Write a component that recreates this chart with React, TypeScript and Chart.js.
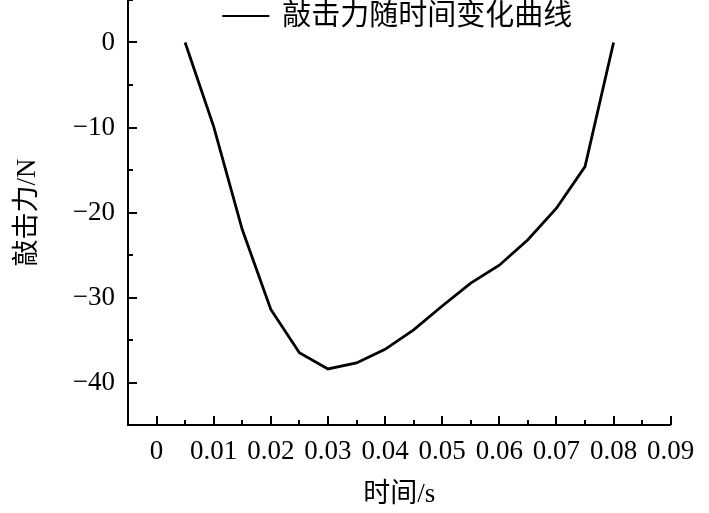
import { useEffect, useRef } from 'react';
import { Chart, registerables } from 'chart.js';

Chart.register(...registerables);

const seriesLabel = '敲击力随时间变化曲线';
const timeValues = [0.005, 0.01, 0.015, 0.02, 0.025, 0.03, 0.035, 0.04, 0.045, 0.05, 0.055, 0.06, 0.065, 0.07, 0.075, 0.08];
const forceValues = [0, -9.9, -22.0, -31.4, -36.5, -38.4, -37.7, -36.1, -33.8, -31.0, -28.3, -26.2, -23.2, -19.5, -14.6, 0];

const xMajorTicks = [0, 0.01, 0.02, 0.03, 0.04, 0.05, 0.06, 0.07, 0.08, 0.09];
const xMinorTicks = [0.005, 0.015, 0.025, 0.035, 0.045, 0.055, 0.065, 0.075, 0.085];
const yMajorTicks = [-40, -30, -20, -10, 0];
const yMinorTicks = [-35, -25, -15, -5, 5];

const xTitle = '时间/s';
const yTitle = '敲击力/N';

const FONT = "'Liberation Serif', 'Noto Sans CJK SC', serif";

const inwardTicks = {
  id: 'inwardTicks',
  afterDraw(chart: any) {
    const { ctx, chartArea } = chart;
    const x = chart.scales.x;
    const y = chart.scales.y;
    ctx.save();
    ctx.strokeStyle = '#000';
    ctx.lineWidth = 2;
    const bottom = chartArea.bottom;
    const left = chartArea.left;
    const drawX = (vals: number[], len: number) => {
      vals.forEach((v) => {
        const px = Math.round(x.getPixelForValue(v));
        ctx.beginPath();
        ctx.moveTo(px, bottom);
        ctx.lineTo(px, bottom - len);
        ctx.stroke();
      });
    };
    const drawY = (vals: number[], len: number) => {
      vals.forEach((v) => {
        const py = Math.round(y.getPixelForValue(v));
        ctx.beginPath();
        ctx.moveTo(left, py);
        ctx.lineTo(left + len, py);
        ctx.stroke();
      });
    };
    drawX(xMajorTicks, 9);
    drawX(xMinorTicks, 5);
    drawY(yMajorTicks, 9);
    drawY(yMinorTicks, 5);

    // legend inside plot area
    const ds = chart.data.datasets[0];
    ctx.font = `29px ${FONT}`;
    const text = ds.label as string;
    const tw = ctx.measureText(text).width;
    const lineW = 47;
    const gap = 13;
    const total = lineW + gap + tw;
    const cx = (chartArea.left + chartArea.right) / 2;
    const sx = cx - total / 2 - 2;
    const ly = chartArea.top + 16;
    ctx.strokeStyle = ds.borderColor;
    ctx.lineWidth = 2;
    ctx.beginPath();
    ctx.moveTo(sx, ly);
    ctx.lineTo(sx + lineW, ly);
    ctx.stroke();
    ctx.fillStyle = '#000';
    ctx.textBaseline = 'middle';
    ctx.textAlign = 'left';
    ctx.fillText(text, sx + lineW + gap, ly + 1);
    ctx.restore();
  },
};

export default function App() {
  const ref = useRef<HTMLCanvasElement>(null);
  useEffect(() => {
    if (!ref.current) return;
    const chart = new Chart(ref.current, {
      type: 'line',
      data: {
        datasets: [
          {
            label: seriesLabel,
            data: timeValues.map((t, i) => ({ x: t, y: forceValues[i] })),
            borderColor: '#000',
            borderWidth: 2.8,
            pointRadius: 0,
            tension: 0,
            fill: false,
          },
        ],
      },
      options: {
        animation: false,
        responsive: false,
        maintainAspectRatio: false,
        layout: { padding: { left: 0, right: 38.3, top: 0, bottom: 0 } },
        plugins: {
          legend: { display: false },
          tooltip: { enabled: false },
        },
        scales: {
          x: {
            type: 'linear',
            min: -0.005,
            max: 0.09,
            afterBuildTicks: (s: any) => {
              s.ticks = xMajorTicks.map((v) => ({ value: v }));
            },
            afterFit: (s: any) => {
              s.height = 88;
              s.paddingLeft = 0;
              s.paddingRight = 0;
            },
            grid: { display: false, drawTicks: false },
            border: { display: true, color: '#000', width: 2 },
            ticks: {
              color: '#000',
              padding: 11,
              maxRotation: 0,
              autoSkip: false,
              font: { family: FONT, size: 27 },
              callback: (v: any) => (v === 0 ? '0' : Number(v).toFixed(2)),
            },
            title: {
              display: true,
              text: xTitle,
              color: '#000',
              font: { family: FONT, size: 27, lineHeight: 1 },
              padding: { top: 0, bottom: 5 },
            },
          },
          y: {
            type: 'linear',
            min: -45,
            max: 5,
            afterBuildTicks: (s: any) => {
              s.ticks = yMajorTicks.map((v) => ({ value: v }));
            },
            afterFit: (s: any) => {
              s.width = 128;
              s.paddingTop = 0;
              s.paddingBottom = 0;
            },
            grid: { display: false, drawTicks: false },
            border: { display: true, color: '#000', width: 2 },
            ticks: {
              color: '#000',
              padding: 13,
              autoSkip: false,
              font: { family: FONT, size: 27 },
              callback: (v: any) => String(v).replace('-', '\u2212'),
            },
            title: {
              display: true,
              text: yTitle,
              color: '#000',
              font: { family: FONT, size: 27, lineHeight: 1 },
              padding: { top: 14, bottom: 0 },
            },
          },
        },
      },
      plugins: [inwardTicks],
    });
    return () => chart.destroy();
  }, []);
  return (
    <div style={{ position: 'fixed', left: 0, top: 0, width: 709, height: 513, background: '#fff' }}>
      <canvas ref={ref} width={709} height={513} style={{ width: 709, height: 513, display: 'block' }} />
    </div>
  );
}
